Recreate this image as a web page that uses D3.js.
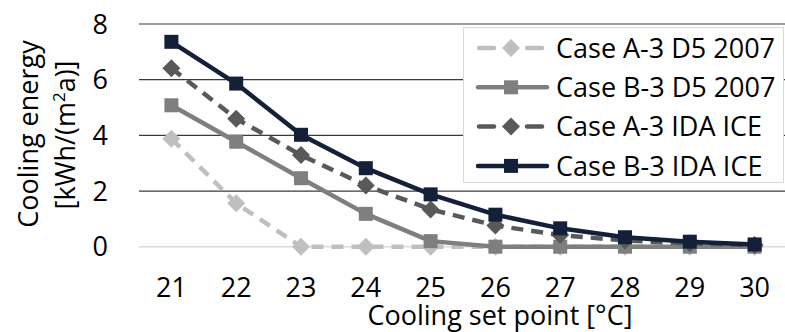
<!DOCTYPE html>
<html>
<head>
<meta charset="utf-8">
<script src="https://cdn.jsdelivr.net/npm/d3@7"></script>
<style>
  body { margin: 0; background: #fff; }
  svg text { font-family: "Open Sans", sans-serif; fill: #000; }
</style>
</head>
<body>
<div id="chart"></div>
<script>
// data
const setPoints = ["21", "22", "23", "24", "25", "26", "27", "28", "29", "30"];
const caseA3D5 = [3.88, 1.56, 0, 0, 0, 0, 0, 0, 0, 0];
const caseB3D5 = [5.08, 3.77, 2.46, 1.18, 0.2, 0, 0, 0, 0, 0];
const caseA3IDA = [6.41, 4.6, 3.29, 2.2, 1.34, 0.76, 0.42, 0.22, 0.12, 0.06];
const caseB3IDA = [7.36, 5.86, 4.02, 2.82, 1.88, 1.15, 0.66, 0.34, 0.18, 0.08];
const yTicks = [0, 2, 4, 6, 8];

const series = [
  { name: "Case A-3 D5 2007", values: caseA3D5, color: "#bfbfbf", dash: "12,8", marker: "diamond" },
  { name: "Case B-3 D5 2007", values: caseB3D5, color: "#7f7f7f", dash: null, marker: "square" },
  { name: "Case A-3 IDA ICE", values: caseA3IDA, color: "#595959", dash: "12,8", marker: "diamond" },
  { name: "Case B-3 IDA ICE", values: caseB3IDA, color: "#14203a", dash: null, marker: "square" }
];

const width = 785, height = 332;

const svg = d3.select("#chart").append("svg")
    .attr("width", width)
    .attr("height", height);

let x = d3.scaleBand().domain(setPoints).range([139, 787]);
let y = d3.scaleLinear().domain([0, 8]).range([246.7, 24]);
const cx = d => x(d) + x.bandwidth() / 2;

// grid lines
svg.append("g")
   .selectAll("line")
   .data(yTicks)
   .enter()
   .append("line")
   .attr("x1", 139).attr("x2", width)
   .attr("y1", d => y(d)).attr("y2", d => y(d))
   .attr("stroke", d => d === 0 ? "#d9d9d9" : "#3a3a3a")
   .attr("stroke-width", d => d === 0 ? 1.5 : 1.2);

// y tick labels
svg.append("g")
   .selectAll("text")
   .data(yTicks)
   .enter()
   .append("text")
   .attr("x", 108)
   .attr("y", d => y(d) + 9.6)
   .attr("text-anchor", "end")
   .style("font-size", "27px")
   .text(d => d);

// x tick labels
svg.append("g")
   .selectAll("text")
   .data(setPoints)
   .enter()
   .append("text")
   .attr("x", d => cx(d))
   .attr("y", 297)
   .attr("text-anchor", "middle")
   .style("font-size", "27px")
   .text(d => d);

// axis titles
svg.append("text")
   .attr("x", 500).attr("y", 325)
   .attr("text-anchor", "middle")
   .style("font-size", "27px")
   .text("Cooling set point [°C]");

svg.append("text")
   .attr("transform", "translate(37.5,134) rotate(-90)")
   .attr("text-anchor", "middle")
   .style("font-size", "27px")
   .text("Cooling energy");

let yt2 = svg.append("text")
   .attr("transform", "translate(75,135) rotate(-90)")
   .attr("text-anchor", "middle")
   .style("font-size", "27px");
yt2.append("tspan").text("[kWh/(m");
yt2.append("tspan").attr("dy", -10).style("font-size", "17px").text("2");
yt2.append("tspan").attr("dy", 10).text("a)]");

// marker drawing
function drawMarker(g, type, color) {
  if (type === "square") {
    g.append("rect")
     .attr("x", -7).attr("y", -7)
     .attr("width", 14).attr("height", 14)
     .attr("fill", color);
  } else {
    g.append("path")
     .attr("d", "M0,-9L9,0L0,9L-9,0Z")
     .attr("fill", color);
  }
}

const line = d3.line()
    .x((d, i) => cx(setPoints[i]))
    .y(d => y(d));

series.forEach(function(s) {
  let g = svg.append("g");
  g.append("path")
   .attr("d", line(s.values))
   .attr("fill", "none")
   .attr("stroke", s.color)
   .attr("stroke-width", 4.5)
   .attr("stroke-linejoin", "round")
   .attr("stroke-dasharray", s.dash);
  g.selectAll("g")
   .data(s.values)
   .enter()
   .append("g")
   .attr("transform", (d, i) => `translate(${cx(setPoints[i])},${y(d)})`)
   .each(function() { drawMarker(d3.select(this), s.marker, s.color); });
});

// legend
let legend = svg.append("g");
legend.append("rect")
   .attr("x", 463.5).attr("y", 27.5)
   .attr("width", 320).attr("height", 155)
   .attr("fill", "#fff")
   .attr("stroke", "#d9d9d9")
   .attr("stroke-width", 1);

let rows = legend.selectAll("g.row")
   .data(series)
   .enter()
   .append("g")
   .attr("class", "row")
   .attr("transform", (d, i) => `translate(511,${48 + i * 39.3})`);

rows.each(function(d) {
  let r = d3.select(this);
  let segs = d.dash ? [[-32, -17], [16, 31]] : [[-33, 36]];
  segs.forEach(function(sg) {
    r.append("line")
     .attr("x1", sg[0]).attr("x2", sg[1])
     .attr("stroke", d.color)
     .attr("stroke-width", 4.5)
     .attr("stroke-linecap", "round");
  });
  drawMarker(r.append("g"), d.marker, d.color);
});

rows.append("text")
   .attr("x", 45).attr("y", 9.6)
   .style("font-size", "27px")
   .text(d => d.name);
</script>
</body>
</html>
